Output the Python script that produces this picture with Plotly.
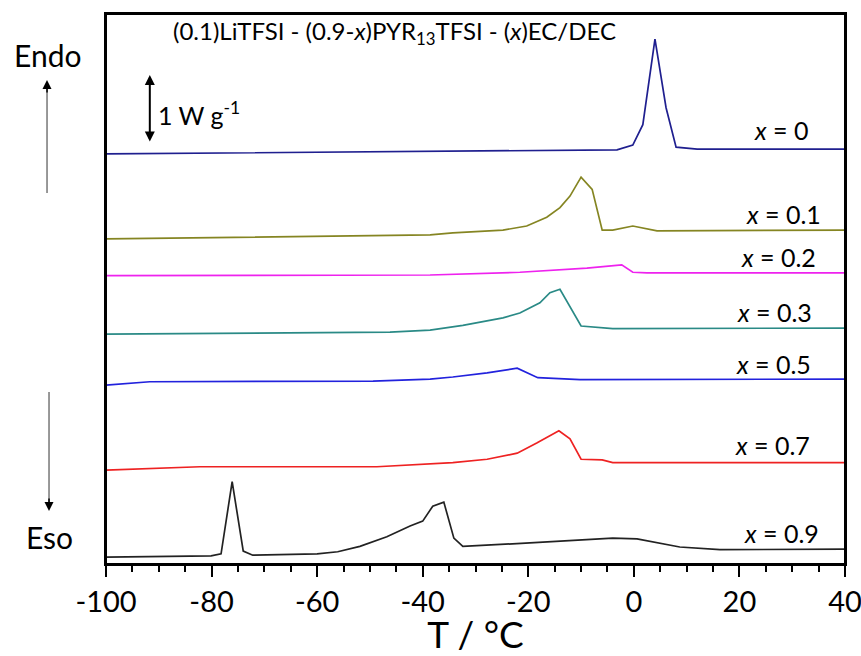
import plotly.graph_objects as go

# Temperatures (°C) and heat flow (W g^-1, curves vertically offset)
T_x0 = [-100, -38.6, -3.2, -0.2, 1.7, 4.0, 6.1, 8.0, 12.0, 40]
H_x0 = [6.03, 6.07, 6.09, 6.16, 6.46, 7.72, 6.71, 6.13, 6.10, 6.10]

T_x01 = [-100, -38.6, -34.3, -24.8, -20.3, -16.5, -14.0, -12.1, -10.0, -7.9, -6.0, -4.0, -0.2, 4.4, 40]
H_x01 = [4.78, 4.84, 4.87, 4.91, 4.97, 5.10, 5.24, 5.41, 5.69, 5.51, 4.91, 4.91, 4.97, 4.90, 4.91]

T_x02 = [-100, -38.6, -21.6, -8.9, -2.3, -0.2, 2.5, 40]
H_x02 = [4.24, 4.25, 4.29, 4.35, 4.40, 4.29, 4.28, 4.28]

T_x03 = [-100, -46.2, -38.6, -32.4, -24.8, -21.6, -17.8, -15.9, -14.0, -10.0, -4.0, 40]
H_x03 = [3.38, 3.41, 3.44, 3.51, 3.62, 3.69, 3.84, 3.99, 4.04, 3.50, 3.46, 3.47]

T_x05 = [-100, -91.7, -49.4, -38.6, -34.3, -27.8, -22.1, -20.3, -18.2, -10.2, 40]
H_x05 = [2.63, 2.68, 2.69, 2.72, 2.75, 2.81, 2.88, 2.82, 2.74, 2.71, 2.72]

T_x07 = [-100, -82.2, -48.7, -38.6, -34.3, -27.8, -22.1, -18.4, -14.2, -12.1, -10.0, -6.0, -4.0, 40]
H_x07 = [1.38, 1.43, 1.43, 1.47, 1.49, 1.54, 1.63, 1.78, 1.96, 1.84, 1.54, 1.53, 1.49, 1.49]

T_x09 = [-100, -80.1, -78.2, -76.1, -74.0, -72.2, -60.0, -56.1, -51.9, -46.8, -42.4,
         -40.0, -38.1, -36.0, -34.1, -32.4, -19.7, -4.0, 0.6, 8.7, 16.3, 40]
H_x09 = [0.10, 0.12, 0.15, 1.21, 0.19, 0.13, 0.15, 0.18, 0.26, 0.40, 0.56,
         0.63, 0.85, 0.91, 0.38, 0.26, 0.31, 0.38, 0.37, 0.25, 0.21, 0.22]

labels = ["0", "0.1", "0.2", "0.3", "0.5", "0.7", "0.9"]
colors = ["#1f1f8f", "#858522", "#ee22ee", "#2a8a86", "#2222dd", "#ee2222", "#222222"]
series = [(T_x0, H_x0), (T_x01, H_x01), (T_x02, H_x02), (T_x03, H_x03),
          (T_x05, H_x05), (T_x07, H_x07), (T_x09, H_x09)]

# x-axis tick labels (plain hyphen as in the original)
tick_vals = [-100, -80, -60, -40, -20, 0, 20, 40]
tick_text = ["-100", "-80", "-60", "-40", "-20", "0", "20", "40"]

# label anchor positions (right edge T, centre heat flow)
label_T = [33.4, 35.8, 34.9, 34.1, 33.9, 33.7, 35.4]
label_H = [6.38, 5.15, 4.51, 3.71, 2.94, 1.75, 0.46]

FONT = "Lato, 'Open Sans', sans-serif"

fig = go.Figure()
for (t, h), c in zip(series, colors):
    fig.add_trace(go.Scatter(x=t, y=h, mode="lines", line=dict(color=c, width=1.7),
                             showlegend=False, hoverinfo="skip"))

for lab, tx, hy in zip(labels, label_T, label_H):
    fig.add_annotation(x=tx, y=hy, xref="x", yref="y", text=f"<i>x</i> = {lab}",
                       showarrow=False, xanchor="right", yanchor="middle",
                       font=dict(family=FONT, size=25, color="black"))

# title text
fig.add_annotation(x=-45.3, y=7.81, xref="x", yref="y",
                   text="(0.1)LiTFSI - (0.9-<i>x</i>)PYR<sub>13</sub>TFSI - (<i>x</i>)EC/DEC",
                   showarrow=False, xanchor="center", yanchor="middle",
                   font=dict(family=FONT, size=24, color="black"))

# scale bar
fig.add_annotation(x=-91.7, y=7.19, ax=-91.7, ay=6.19, xref="x", yref="y",
                   axref="x", ayref="y", text="", showarrow=True,
                   arrowhead=2, arrowside="end+start", arrowsize=1, arrowwidth=2,
                   arrowcolor="black")
fig.add_annotation(x=-90.6, y=6.63, xref="x", yref="y", text="1 W g<sup>-1</sup>",
                   showarrow=False, xanchor="left", yanchor="middle",
                   font=dict(family=FONT, size=25, color="black"))

# Endo / Eso
fig.add_annotation(x=-0.0798, y=0.925, xref="paper", yref="paper", text="Endo",
                   showarrow=False, xanchor="center", yanchor="middle",
                   font=dict(family=FONT, size=30, color="black"))
fig.add_annotation(x=-0.0771, y=0.049, xref="paper", yref="paper", text="Eso",
                   showarrow=False, xanchor="center", yanchor="middle",
                   font=dict(family=FONT, size=30, color="black"))
fig.add_shape(type="line", xref="paper", yref="paper", x0=-0.0798, x1=-0.0798,
              y0=(564 - 193) / 550, y1=(564 - 88) / 550, line=dict(color="#777777", width=1.5))
fig.add_annotation(x=-0.0798, y=(564 - 80) / 550, xref="paper", yref="paper", text="",
                   showarrow=True, ax=0, ay=14, arrowhead=2, arrowsize=1.2, arrowwidth=1.5,
                   arrowcolor="black")
fig.add_shape(type="line", xref="paper", yref="paper", x0=-0.0771, x1=-0.0771,
              y0=(564 - 392) / 550, y1=(564 - 503) / 550, line=dict(color="#777777", width=1.5))
fig.add_annotation(x=-0.0771, y=(564 - 511) / 550, xref="paper", yref="paper", text="",
                   showarrow=True, ax=0, ay=-14, arrowhead=2, arrowsize=1.2, arrowwidth=1.5,
                   arrowcolor="black")

# plot frame
fig.add_shape(type="rect", xref="paper", yref="paper", x0=0, x1=1, y0=0, y1=1,
              line=dict(color="black", width=2), fillcolor="rgba(0,0,0,0)", layer="above")

fig.update_layout(
    width=861, height=656,
    margin=dict(l=106, r=16, t=14, b=92, autoexpand=False),
    plot_bgcolor="white", paper_bgcolor="white",
    font=dict(family=FONT, color="black"),
)
fig.update_xaxes(range=[-100, 40], tickmode="array", tickvals=tick_vals, ticktext=tick_text,
                 showgrid=False, zeroline=False,
                 automargin=False, ticklabeloverflow="allow",
                 showline=True, linecolor="black", linewidth=2, mirror=True,
                 ticks="outside", ticklen=11, tickwidth=2, tickcolor="black",
                 minor=dict(dtick=5, tick0=-100, ticks="outside", ticklen=6, tickwidth=2,
                            tickcolor="black", showgrid=False),
                 tickfont=dict(family=FONT, size=29, color="black"),
                 title=dict(text="T / °C", font=dict(family=FONT, size=37, color="black"), standoff=2))
fig.update_yaxes(range=[0, 8.088], showgrid=False, zeroline=False, showticklabels=False,
                 automargin=False,
                 showline=True, linecolor="black", linewidth=2, mirror=True, ticks="")

fig.write_html("out.html", config={"displayModeBar": False},
               post_script="document.body.style.margin='0';")
